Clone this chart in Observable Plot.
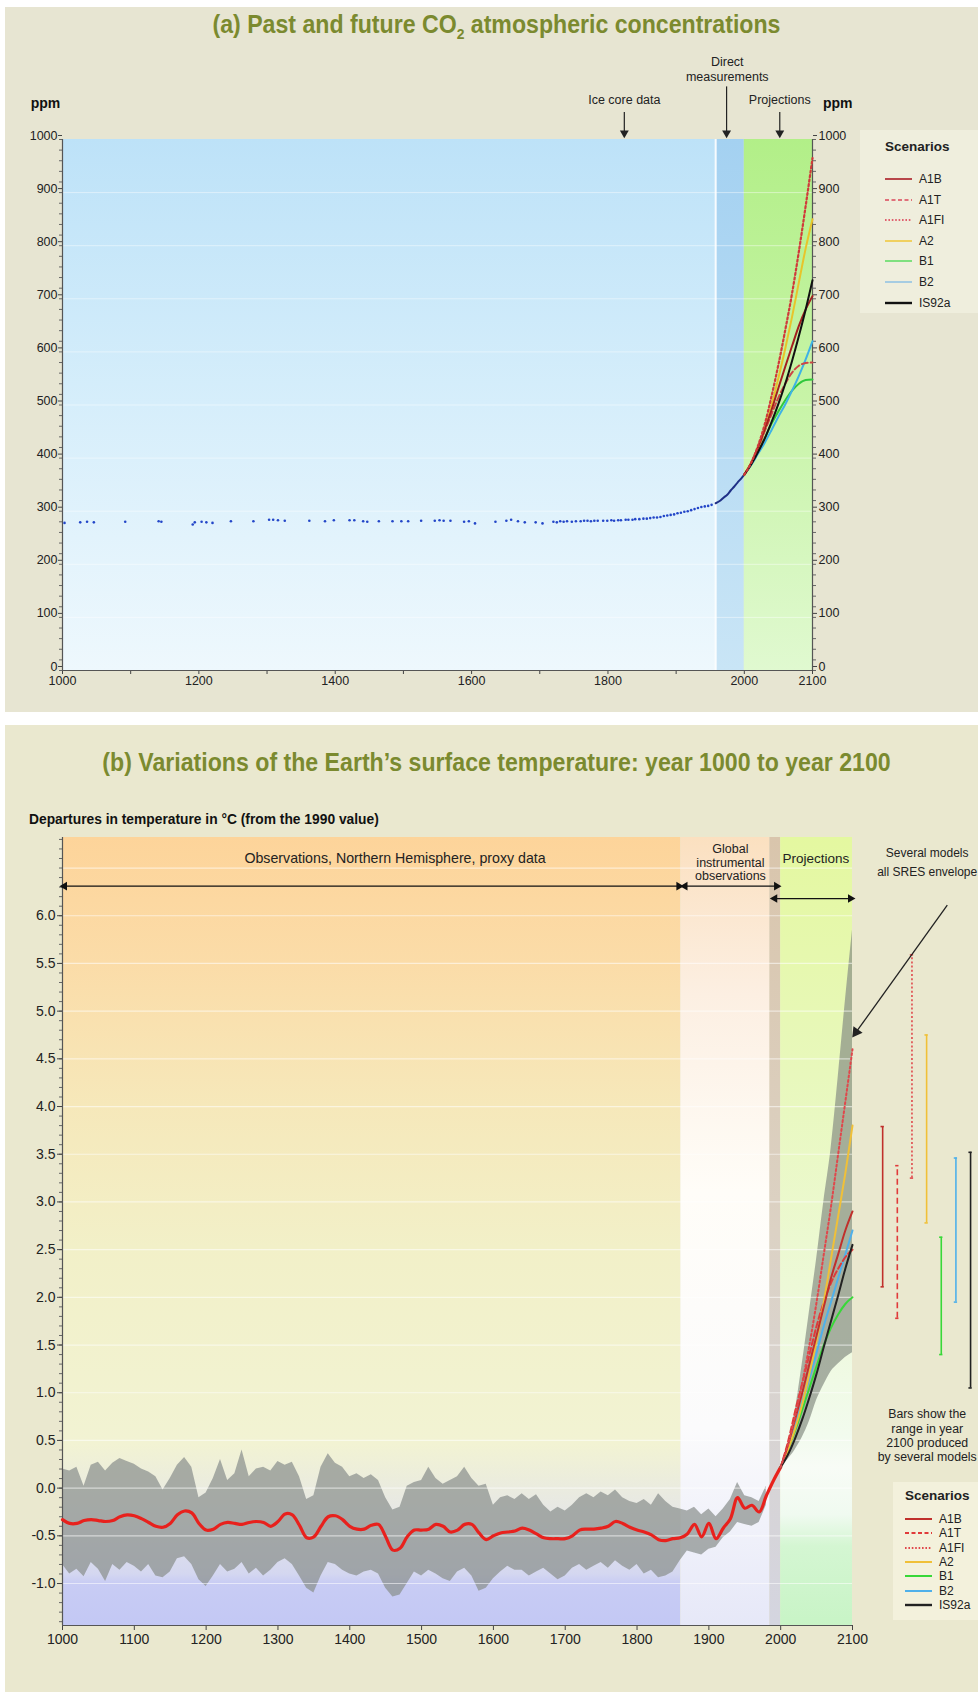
<!DOCTYPE html>
<html>
<head>
<meta charset="utf-8">
<script src="https://cdn.jsdelivr.net/npm/d3@7"></script>
<script src="https://cdn.jsdelivr.net/npm/@observablehq/plot@0.6"></script>
<style>
  body { margin: 0; width: 978px; height: 1692px; background: #fff; position: relative; overflow: hidden;
         font-family: "Liberation Sans", Arial, sans-serif; }
  .panel { position: absolute; left: 5px; width: 973px; overflow: hidden; }
  #pa { top: 7px; height: 705px; background: #e7e5d2; }
  #pb { top: 725px; height: 967px; background: #eae8cf; }
  .panel svg { position: absolute; left: 0; top: 0; }
  .title { position: absolute; left: 10px; width: 963px; text-align: center; line-height: 30px;
           font-family: "Liberation Sans Narrow", "Liberation Sans", Arial, sans-serif;
           font-weight: bold; font-size: 25px; color: #7b8a2f; transform: scaleX(0.925); transform-origin: 50% 50%; }
  .title sub { font-size: 15px; }
  .ylab { position: absolute; font-weight: bold; font-size: 13.8px; color: #111; white-space: nowrap; }
  .legend { position: absolute; font-size: 12px; color: #222; }
  .legend .head { font-weight: bold; font-size: 13.5px; position: absolute; }
  .legend .row { position: absolute; display: flex; align-items: center; white-space: nowrap; }
  .legend svg { position: static; margin-right: 7px; }
</style>
</head>
<body>
<div id="pa" class="panel">
  <div class="title" style="top:2px">(a) Past and future CO<sub>2</sub> atmospheric concentrations</div>
</div>
<div id="pb" class="panel">
  <div class="title" style="top:22px">(b) Variations of the Earth’s surface temperature: year 1000 to year 2100</div>
  <div class="ylab" style="left:24px; top:87px">Departures in temperature in °C (from the 1990 value)</div>
</div>
<script>
// ---------- Scenario names ----------
const scenarios = ["A1B", "A1T", "A1FI", "A2", "B1", "B2", "IS92a"];
const projYears = [2000, 2010, 2020, 2030, 2040, 2050, 2060, 2070, 2080, 2090, 2100];

// ---------- (a) CO2 concentrations, ppm ----------
const iceYears = [1003,1026,1036,1046,1092,1141,1145,1191,1194,1204,1211,1220,1247,1280,1303,1309,1316,1326,
  1362,1385,1398,1421,1428,1441,1447,1464,1484,1497,1507,1526,1546,1553,1559,1569,1589,1596,1605,1635,1651,
  1658,1668,1678,1694,1704,1720,1725,1730,1735,1740,1747,1753,1760,1765,1770,1775,1780,1785,1793,1799,1805,
  1809,1815,1819,1826,1830,1836,1840,1846,1852,1857,1862,1867,1872,1877,1882,1887,1892,1897,1902,1907,1912,
  1917,1922,1927,1932,1937,1942,1947,1952];
const icePpm = [278,279,280,279,280,281,280,275,279,280,279,278,281,281,284,284,283,282,
  282,281,283,283,283,281,280,281,281,281,281,282,282,283,282,282,280,281,277,280,282,
  284,281,279,279,277,280,279,281,280,281,280,281,281,282,282,281,282,282,282,282,283,
  282,283,283,284,284,284,285,285,286,286,287,288,288,289,291,292,293,294,296,297,299,
  300,302,304,306,308,309,310,312];
const directYears = [1958, 1965, 1970, 1975, 1980, 1985, 1990, 1995, 2000];
const directPpm = [315, 320, 326, 331, 339, 346, 354, 361, 369];
const co2Proj = {
  A1B:   [369, 391, 420, 454, 491, 532, 572, 611, 649, 680, 705],
  A1T:   [369, 390, 417, 451, 483, 514, 540, 561, 574, 579, 580],
  A1FI:  [369, 391, 423, 464, 517, 576, 641, 710, 789, 875, 965],
  A2:    [369, 390, 418, 455, 500, 551, 606, 666, 731, 795, 850],
  B1:    [369, 388, 412, 437, 465, 488, 509, 527, 540, 547, 548],
  B2:    [369, 387, 408, 429, 453, 478, 501, 527, 555, 586, 620],
  IS92a: [369, 388, 411, 437, 468, 502, 540, 583, 630, 680, 735]
};
const co2Eras = [1000, 1958, 2000, 2100];           // ice core | direct | projections
const co2XLabels = [1000, 1200, 1400, 1600, 1800, 2000, 2100];

// ---------- (b) Temperature departures, °C ----------
const proxyYears = d3.range(1000, 1990, 10);
const proxyHigh = [0.20,0.18,0.22,0.02,0.24,0.27,0.18,0.26,0.31,0.28,0.25,0.20,0.17,0.12,-0.02,0.10,0.24,0.32,0.22,-0.10,
  -0.05,0.10,0.30,0.08,0.15,0.40,0.12,0.20,0.22,0.18,0.28,0.24,0.27,0.12,-0.12,-0.08,0.22,0.36,0.26,0.22,
  0.12,0.15,0.10,0.14,0.08,-0.10,-0.23,-0.20,0.02,0.06,0.08,0.22,0.10,0.04,0.08,0.12,0.22,0.10,0.02,0.04,
  -0.18,-0.10,-0.08,-0.12,-0.06,-0.12,-0.07,-0.18,-0.25,-0.20,-0.24,-0.18,-0.10,-0.06,-0.10,-0.04,-0.08,-0.02,-0.10,-0.14,
  -0.16,-0.12,-0.18,-0.06,-0.14,-0.20,-0.22,-0.24,-0.20,-0.28,-0.22,-0.30,-0.22,-0.12,0.06,-0.08,-0.10,-0.14,0.02];
const proxyLow = [-0.80,-0.90,-0.85,-0.93,-0.78,-0.85,-0.98,-0.80,-0.86,-0.78,-0.82,-0.88,-0.80,-0.92,-0.94,-0.88,-0.74,-0.72,-0.80,-0.96,
  -1.03,-0.92,-0.80,-0.88,-0.85,-0.78,-0.90,-0.84,-0.92,-0.86,-0.78,-0.74,-0.80,-0.92,-1.05,-1.10,-0.92,-0.78,-0.80,-0.86,
  -0.90,-0.92,-0.88,-0.86,-0.90,-1.05,-1.14,-1.12,-1.00,-0.88,-0.92,-0.86,-0.90,-0.95,-0.98,-0.88,-0.84,-0.92,-1.08,-1.05,
  -0.95,-0.88,-0.82,-0.86,-0.86,-0.92,-0.88,-0.84,-0.90,-0.96,-0.92,-0.84,-0.80,-0.86,-0.82,-0.78,-0.84,-0.76,-0.82,-0.86,
  -0.80,-0.90,-0.86,-0.94,-0.92,-0.88,-0.76,-0.66,-0.68,-0.70,-0.64,-0.62,-0.52,-0.46,-0.36,-0.38,-0.40,-0.36,-0.18];
const smoothYears = d3.range(1000, 2001, 10);
const smoothTemp = [-0.33,-0.37,-0.37,-0.34,-0.33,-0.34,-0.35,-0.34,-0.30,-0.28,-0.29,-0.32,-0.36,-0.40,-0.41,-0.37,-0.28,-0.24,-0.26,-0.37,
  -0.44,-0.43,-0.38,-0.36,-0.37,-0.38,-0.36,-0.35,-0.36,-0.40,-0.35,-0.27,-0.28,-0.39,-0.52,-0.51,-0.40,-0.30,-0.29,-0.33,
  -0.40,-0.43,-0.43,-0.39,-0.38,-0.51,-0.65,-0.63,-0.51,-0.44,-0.44,-0.43,-0.38,-0.40,-0.46,-0.44,-0.38,-0.38,-0.47,-0.54,
  -0.50,-0.47,-0.46,-0.45,-0.42,-0.44,-0.48,-0.52,-0.53,-0.53,-0.53,-0.50,-0.44,-0.43,-0.43,-0.42,-0.40,-0.35,-0.37,-0.41,
  -0.44,-0.46,-0.49,-0.54,-0.55,-0.53,-0.52,-0.48,-0.38,-0.51,-0.37,-0.53,-0.42,-0.32,-0.10,-0.21,-0.18,-0.25,-0.08,0.08,0.22];
const tempProj = {
  A1B:   [0.22, 0.45, 0.72, 1.00, 1.30, 1.60, 1.90, 2.20, 2.45, 2.70, 2.90],
  A1T:   [0.22, 0.48, 0.80, 1.10, 1.40, 1.70, 1.95, 2.15, 2.30, 2.42, 2.50],
  A1FI:  [0.22, 0.45, 0.75, 1.10, 1.50, 1.95, 2.45, 2.95, 3.50, 4.05, 4.60],
  A2:    [0.22, 0.40, 0.62, 0.88, 1.20, 1.55, 1.95, 2.40, 2.85, 3.30, 3.80],
  B1:    [0.22, 0.40, 0.60, 0.82, 1.05, 1.28, 1.50, 1.68, 1.82, 1.93, 2.00],
  B2:    [0.22, 0.42, 0.65, 0.90, 1.15, 1.42, 1.70, 1.95, 2.20, 2.45, 2.70],
  IS92a: [0.22, 0.35, 0.52, 0.72, 0.95, 1.20, 1.48, 1.75, 2.02, 2.30, 2.55]
};
const envelopeHigh = [0.22, 0.45, 0.80, 1.30, 1.85, 2.40, 3.00, 3.55, 4.30, 5.10, 5.85];
const envelopeLow  = [0.22, 0.30, 0.40, 0.53, 0.70, 0.92, 1.08, 1.22, 1.30, 1.37, 1.42];
const rangeLow2100  = [2.11, 1.78, 3.25, 2.78, 1.40, 1.95, 1.05];
const rangeHigh2100 = [3.79, 3.38, 5.59, 4.75, 2.63, 3.46, 3.52];
const tempEras = [1000, 1861, 1985, 2000, 2100];   // proxy | instrumental | gap | projections
const tempDomain = [-1.44, 6.82];
const tempTicks = d3.range(-1, 6.01, 0.5);

// ---------- styles ----------
const colorA = {A1B: "#a41f1f", A1T: "#cc4646", A1FI: "#d03a3a", A2: "#e8c42a", B1: "#2fc83c", B2: "#3eb2e6", IS92a: "#111"};
const colorB = {A1B: "#c0302c", A1T: "#e03a3a", A1FI: "#e0484c", A2: "#f0c038", B1: "#38d838", B2: "#4fb0ea", IS92a: "#222"};
const legendColorA = {A1B: "#b8464a", A1T: "#e0707a", A1FI: "#e0606e", A2: "#f0d060", B1: "#7fe07f", B2: "#a6cce2", IS92a: "#111"};
const dash = {A1B: null, A1T: "6,3", A1FI: "2,2.5", A2: null, B1: null, B2: null, IS92a: null};
const drawOrder = ["B1", "B2", "A1T", "A2", "A1B", "IS92a", "A1FI"];
const NARROW = "Liberation Sans Narrow, Liberation Sans, Arial, sans-serif";

function addGradient(svg, id, stops) {
  const ns = "http://www.w3.org/2000/svg";
  let defs = svg.querySelector("defs");
  if (!defs) { defs = document.createElementNS(ns, "defs"); svg.insertBefore(defs, svg.firstChild); }
  const g = document.createElementNS(ns, "linearGradient");
  g.setAttribute("id", id);
  g.setAttribute("x1", 0); g.setAttribute("y1", 0); g.setAttribute("x2", 0); g.setAttribute("y2", 1);
  for (const [o, c] of stops) {
    const s = document.createElementNS(ns, "stop");
    s.setAttribute("offset", o); s.setAttribute("stop-color", c);
    g.appendChild(s);
  }
  defs.appendChild(g);
}

function rows(years, values, key) { return years.map((year, i) => ({year, [key]: values[i]})); }

function buildLegend(parent, box, colors, opts) {
  const el = document.createElement("div");
  el.className = "legend";
  Object.assign(el.style, {left: box.left + "px", top: box.top + "px", width: box.width + "px",
                           height: box.height + "px", background: box.bg});
  const head = document.createElement("div");
  head.className = "head";
  head.textContent = "Scenarios";
  Object.assign(head.style, {left: opts.headX + "px", top: opts.headY + "px"});
  el.appendChild(head);
  scenarios.forEach((s, i) => {
    const r = document.createElement("div");
    r.className = "row";
    Object.assign(r.style, {left: opts.lineX + "px", top: (opts.rowY + i * opts.rowH) + "px", fontSize: opts.fs + "px"});
    const d = dash[s] ? `stroke-dasharray="${s === "A1FI" ? "1.6,1.8" : "4,2.5"}"` : "";
    r.innerHTML = `<svg width="${opts.lineLen}" height="6"><line x1="0" x2="${opts.lineLen}" y1="3" y2="3" stroke="${colors[s]}" stroke-width="${s === "IS92a" ? 2.4 : 2}" ${d}/></svg><span>${s}</span>`;
    el.appendChild(r);
  });
  parent.appendChild(el);
}

// ================= Panel (a) =================
const co2Rows = iceYears.map((year, i) => ({year, ppm: icePpm[i]}));
const directRows = rows(directYears, directPpm, "ppm");
const projMarksA = drawOrder.map(s => Plot.line(rows(projYears, co2Proj[s], "ppm"), {
  x: "year", y: "ppm", stroke: colorA[s], strokeWidth: s === "A1FI" ? 2.2 : 2,
  strokeDasharray: dash[s], curve: "monotone-x"
}));

const svgA = Plot.plot({
  width: 973, height: 705,
  marginLeft: 57, marginRight: 166, marginTop: 132, marginBottom: 42,
  x: {domain: [1000, 2100], label: null},
  y: {domain: [0, 1000], label: null},
  style: {background: "transparent", fontFamily: "Liberation Sans, Arial, sans-serif", fontSize: "12.5px", color: "#222", overflow: "visible"},
  marks: [
    Plot.rect([0], {x1: co2Eras[0], x2: co2Eras[1], y1: 0, y2: 1000, fill: "url(#aIce)"}),
    Plot.rect([0], {x1: co2Eras[1], x2: co2Eras[2], y1: 0, y2: 1000, fill: "url(#aDirect)"}),
    Plot.rect([0], {x1: co2Eras[2], x2: co2Eras[3], y1: 0, y2: 1000, fill: "url(#aProj)"}),
    Plot.ruleY(d3.range(100, 1000, 100), {stroke: "#fff", strokeOpacity: 0.45}),
    Plot.ruleX([co2Eras[1]], {stroke: "#fff", strokeWidth: 2, strokeOpacity: 0.9}),
    // axes
    Plot.axisY({anchor: "left", label: null, ticks: d3.range(0, 1001, 20), tickSize: 3, tickFormat: () => "", stroke: "#666"}),
    Plot.axisY({anchor: "left", label: null, ticks: d3.range(0, 1001, 100), tickSize: 4, tickPadding: 1, dy: -4, tickFormat: d => String(d), stroke: "#444"}),
    Plot.axisY({anchor: "right", label: null, ticks: d3.range(0, 1001, 20), tickSize: 3, tickFormat: () => "", stroke: "#666"}),
    Plot.axisY({anchor: "right", label: null, ticks: d3.range(0, 1001, 100), tickSize: 4, tickPadding: 2, dy: -4, tickFormat: d => String(d), stroke: "#444"}),
    Plot.axisX({label: null, ticks: d3.range(1000, 2101, 100), tickSize: 4, tickPadding: 2, tickFormat: d => co2XLabels.includes(d) ? String(d) : "", stroke: "#444"}),
    Plot.ruleX([1000, 2100], {stroke: "#555", strokeWidth: 1.2}),
    Plot.ruleY([0], {stroke: "#555", strokeWidth: 1.2}),
    // data
    Plot.dot(co2Rows, {x: "year", y: "ppm", r: 1.3, fill: "#2346c8", stroke: "none"}),
    Plot.line(directRows, {x: "year", y: "ppm", stroke: "#1f2f86", strokeWidth: 2, curve: "monotone-x"}),
    ...projMarksA,
    // annotations above the frame
    Plot.text(["ppm"], {x: 975, y: 1068, fontWeight: "bold", fontSize: 14, fontFamily: NARROW, fill: "#111"}),
    Plot.text(["ppm"], {x: 2137, y: 1068, fontWeight: "bold", fontSize: 14, fontFamily: NARROW, fill: "#111"}),
    Plot.text(["Ice core data"], {x: 1824, y: 1074, fontSize: 12.5, fontFamily: NARROW, fill: "#222"}),
    Plot.text(["Direct\nmeasurements"], {x: 1975, y: 1133, lineHeight: 1.2, fontSize: 12.5, fontFamily: NARROW, fill: "#222"}),
    Plot.text(["Projections"], {x: 2052, y: 1074, fontSize: 12.5, fontFamily: NARROW, fill: "#222"}),
    Plot.link([0], {x1: 1824, x2: 1824, y1: 1052, y2: 1012, stroke: "#222", strokeWidth: 1.2}),
    Plot.link([0], {x1: 1974, x2: 1974, y1: 1100, y2: 1012, stroke: "#222", strokeWidth: 1.2}),
    Plot.link([0], {x1: 2052, x2: 2052, y1: 1052, y2: 1012, stroke: "#222", strokeWidth: 1.2}),
    Plot.dot([1824, 1974, 2052], {x: d => d, y: 1012, symbol: "triangle", rotate: 180, r: 3.3, fill: "#222", stroke: "none"})
  ]
});
addGradient(svgA, "aIce", [[0, "#bde2f8"], [0.5, "#d6eefb"], [1, "#eef8fd"]]);
addGradient(svgA, "aDirect", [[0, "#a4d1f1"], [1, "#c9e5f6"]]);
addGradient(svgA, "aProj", [[0, "#b2ef88"], [0.5, "#c8f4a8"], [1, "#e0f9d0"]]);
document.getElementById("pa").appendChild(svgA);
buildLegend(document.getElementById("pa"),
  {left: 855, top: 123, width: 120, height: 183, bg: "#efeedd"}, legendColorA,
  {headX: 25, headY: 9, lineX: 25, lineLen: 27, rowY: 42, rowH: 20.6, fs: 12});

// ================= Panel (b) =================
const proxyRows = proxyYears.map((year, i) => ({year, hi: proxyHigh[i], lo: proxyLow[i]}));
const smoothRows = rows(smoothYears, smoothTemp, "t");
const envRows = projYears.map((year, i) => ({year, hi: envelopeHigh[i], lo: envelopeLow[i]}));
const projMarksB = drawOrder.map(s => Plot.line(rows(projYears, tempProj[s], "t"), {
  x: "year", y: "t", stroke: colorB[s], strokeWidth: 2, strokeDasharray: dash[s], curve: "monotone-x"
}));
// range bars to the right of the frame, one per scenario
const barYear = i => 2142 + 20.4 * i;
const barMarks = scenarios.flatMap((s, i) => {
  const bx = barYear(i);
  return [
    Plot.ruleX([bx], {y1: rangeLow2100[i], y2: rangeHigh2100[i], stroke: colorB[s], strokeWidth: 1.6,
                      strokeDasharray: s === "A1FI" ? "2,2.2" : s === "A1T" ? "6,3.5" : null}),
    Plot.ruleY([rangeLow2100[i], rangeHigh2100[i]], {x1: bx - 2.3, x2: bx + 2.3, stroke: colorB[s], strokeWidth: 1.6})
  ];
});
const dblArrow = (a, b, y) => [
  Plot.link([0], {x1: a, x2: b, y1: y, y2: y, stroke: "#111", strokeWidth: 1.2}),
  Plot.dot([a], {x: d => d, y, symbol: "triangle", rotate: -90, r: 3.2, fill: "#111", stroke: "none", dx: 2}),
  Plot.dot([b], {x: d => d, y, symbol: "triangle", rotate: 90, r: 3.2, fill: "#111", stroke: "none", dx: -2})
];

const svgB = Plot.plot({
  width: 973, height: 967,
  marginLeft: 57, marginRight: 126, marginTop: 112, marginBottom: 67,
  x: {domain: [1000, 2100], label: null},
  y: {domain: tempDomain, label: null},
  style: {background: "transparent", fontFamily: "Liberation Sans, Arial, sans-serif", fontSize: "14px", color: "#222", overflow: "visible"},
  marks: [
    Plot.rect([0], {x1: tempEras[0], x2: tempEras[1], y1: tempDomain[0], y2: tempDomain[1], fill: "url(#bProxy)"}),
    Plot.rect([0], {x1: tempEras[1], x2: tempEras[2], y1: tempDomain[0], y2: tempDomain[1], fill: "url(#bInstr)"}),
    Plot.rect([0], {x1: tempEras[2], x2: tempEras[3], y1: tempDomain[0], y2: tempDomain[1], fill: "url(#bGap)"}),
    Plot.rect([0], {x1: tempEras[3], x2: tempEras[4], y1: tempDomain[0], y2: tempDomain[1], fill: "url(#bProj)"}),
    // uncertainty of the proxy reconstruction and model envelope
    Plot.areaY(proxyRows, {x: "year", y1: "lo", y2: "hi", fill: "#8b908e", fillOpacity: 0.72}),
    Plot.areaY(envRows, {x: "year", y1: "lo", y2: "hi", fill: "#878e84", fillOpacity: 0.7, curve: "monotone-x"}),
    Plot.ruleY(d3.range(-1, 6.51, 0.5), {stroke: "#fff", strokeOpacity: 0.55, strokeWidth: 1.2}),
    // axes
    Plot.axisY({anchor: "left", label: null, ticks: d3.range(-1.4, 6.81, 0.1).map(v => +v.toFixed(1)), tickSize: 3, tickFormat: () => "", stroke: "#666"}),
    Plot.axisY({anchor: "left", label: null, ticks: tempTicks, tickSize: 5, tickPadding: 2, tickFormat: d => d.toFixed(1), stroke: "#444"}),
    Plot.axisX({label: null, ticks: d3.range(1000, 2101, 100), tickSize: 5, tickPadding: 4, tickFormat: d => String(d), stroke: "#444"}),
    Plot.ruleX([1000], {stroke: "#555", strokeWidth: 1.2}),
    Plot.ruleY([tempDomain[0]], {x1: 1000, x2: 2100, stroke: "#555", strokeWidth: 1.2}),
    // series
    Plot.line(smoothRows, {x: "year", y: "t", stroke: "#e8211d", strokeWidth: 3.2, curve: "catmull-rom"}),
    ...projMarksB,
    ...barMarks,
    // header annotations
    Plot.text(["Observations, Northern Hemisphere, proxy data"], {x: 1463, y: 6.6, fontSize: 14.2, fontFamily: NARROW, fill: "#222"}),
    Plot.text(["Global\ninstrumental\nobservations"], {x: 1930, y: 6.56, lineHeight: 1.05, fontSize: 12.5, fontFamily: NARROW, fill: "#222"}),
    Plot.text(["Projections"], {x: 2049, y: 6.6, fontSize: 13.5, fontFamily: NARROW, fill: "#222"}),
    ...dblArrow(1000, 1861, 6.31),
    ...dblArrow(1864, 1997, 6.31),
    ...dblArrow(1989, 2100, 6.18),
    Plot.text(["Several models\nall SRES envelope"], {x: 2204, y: 6.58, lineHeight: 1.6, fontSize: 12, fontFamily: NARROW, fill: "#222"}),
    Plot.link([0], {x1: 2232, y1: 6.11, x2: 2107, y2: 4.8, stroke: "#222", strokeWidth: 1.3}),
    Plot.dot([0], {x: 2105, y: 4.78, symbol: "triangle", rotate: 216, r: 4.2, fill: "#222", stroke: "none"}),
    Plot.text(["Bars show the\nrange in year\n2100 produced\nby several models"], {x: 2204, y: 0.555, lineHeight: 1.15, fontSize: 12.3, fill: "#222"})
  ]
});
addGradient(svgB, "bProxy", [[0, "#fdd49a"], [0.16, "#fbdca8"], [0.34, "#f6e8ba"], [0.52, "#f2f0c8"], [0.77, "#f2f3d3"],
                             [0.86, "#e6e7e6"], [0.935, "#d4d7f0"], [0.947, "#c8ccf4"], [1, "#c3c8f4"]]);
addGradient(svgB, "bInstr", [[0, "#fbe0c0"], [0.2, "#fcefe2"], [0.45, "#fffdf8"], [0.75, "#fbfbfc"], [1, "#e6e8f8"]]);
addGradient(svgB, "bGap", [[0, "#d9c5ac"], [0.5, "#dcd2c4"], [1, "#d4d5e0"]]);
addGradient(svgB, "bProj", [[0, "#e4f8a0"], [0.3, "#e8f8bc"], [0.62, "#eef9dc"], [0.76, "#f2fbee"], [0.8, "#f8fcf6"],
                            [0.86, "#f0faf0"], [0.9, "#d4f6d2"], [1, "#c8f4c6"]]);
document.getElementById("pb").appendChild(svgB);
buildLegend(document.getElementById("pb"),
  {left: 888, top: 757, width: 90, height: 138, bg: "#f3f1dc"}, colorB,
  {headX: 12, headY: 6, lineX: 12, lineLen: 27, rowY: 30, rowH: 14.3, fs: 12});
</script>
</body>
</html>
